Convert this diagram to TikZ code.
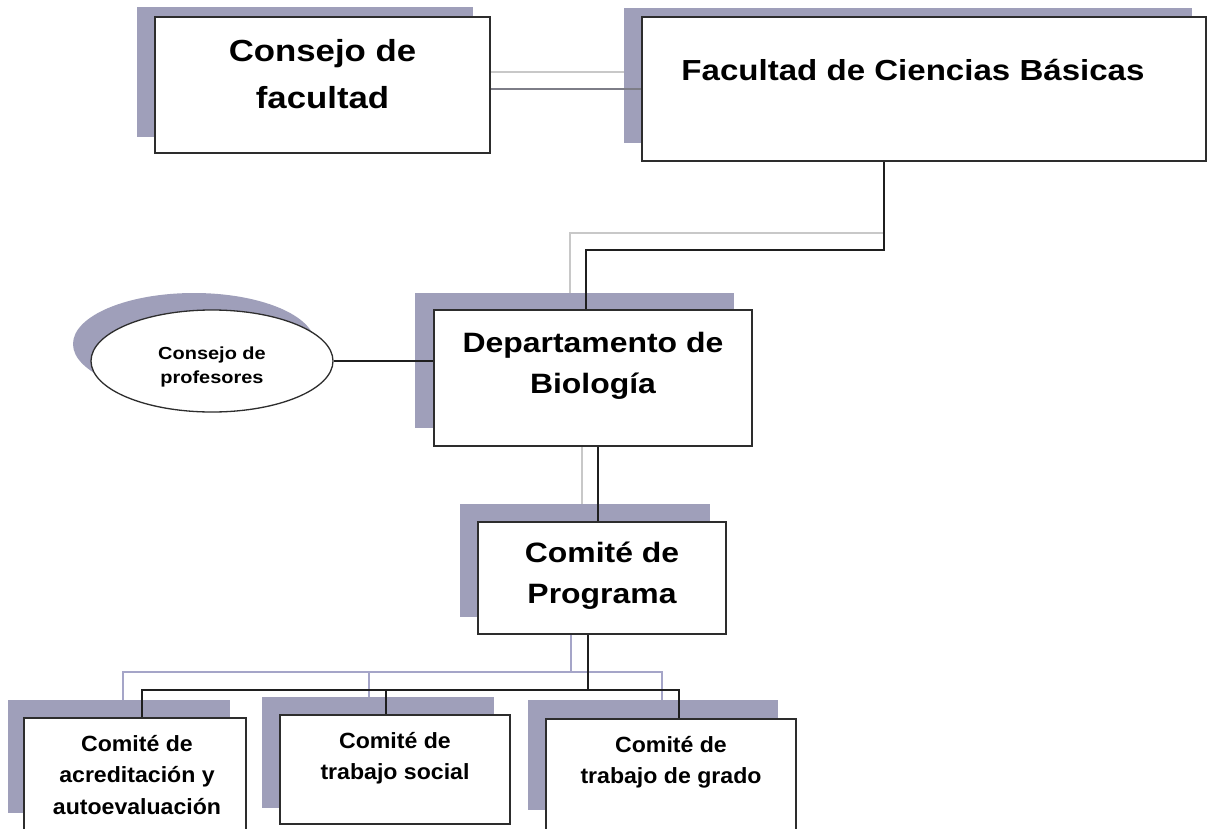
\documentclass[tikz,border=0pt]{standalone}
\usepackage{fontspec}
\setmainfont{Liberation Sans}
\newfontfamily\topf[FakeStretch=1.14]{Liberation Sans}
\newfontfamily\botf[FakeStretch=1.05]{Liberation Sans}
\usetikzlibrary{shapes.geometric}
\definecolor{shadowc}{RGB}{159,159,186}
\definecolor{lightg}{RGB}{200,200,200}
\definecolor{midg}{RGB}{125,125,135}
\definecolor{blueg}{RGB}{165,165,200}
\definecolor{borderc}{RGB}{45,45,45}
\pgfdeclarelayer{bgpaper}
\pgfdeclarelayer{glines}
\pgfdeclarelayer{shadows}
\pgfdeclarelayer{lines}
\pgfsetlayers{bgpaper,glines,shadows,lines,main}
\begin{document}
\begin{tikzpicture}[x=1pt,y=-1pt,
  box/.style={draw=borderc, line width=1.4pt, fill=white, rectangle, inner sep=0pt},
  oval/.style={draw=borderc, line width=1.3pt, fill=white, ellipse, inner sep=0pt},
  shad/.style={fill=shadowc},
  txt/.style={align=center, inner sep=0pt, text depth=0pt, text=black},
  bigt/.style={font=\topf\bfseries\fontsize{28}{41}\selectfont},
  smallt/.style={font=\botf\bfseries\fontsize{22}{31.5}\selectfont},
  blk/.style={draw=black!88, line width=1.3pt},
  lgr/.style={draw=lightg, line width=1.4pt},
  mgr/.style={draw=midg, line width=1.5pt},
  bgr/.style={draw=blueg, line width=1.3pt}]
\useasboundingbox (0,0) rectangle (1211,828);
\begin{pgfonlayer}{bgpaper}
\fill[white] (0,0) rectangle (1211,828);
\end{pgfonlayer}

% boxes
\node[box, minimum width=335pt, minimum height=136pt] (cf) at (322.5,85) {};
\node[box, minimum width=564pt, minimum height=144pt] (fac) at (924,89) {};
\node[box, minimum width=318pt, minimum height=136pt] (dep) at (593,378) {};
\node[box, minimum width=248pt, minimum height=112pt] (com) at (602,578) {};
\node[oval, minimum width=242pt, minimum height=102pt] (prof) at (212,361) {};
\node[box, minimum width=222pt, minimum height=130pt] (k1) at (135,783) {};
\node[box, minimum width=230pt, minimum height=109pt] (k2) at (395,769.5) {};
\node[box, minimum width=250pt, minimum height=130pt] (k3) at (671,784) {};

% texts
\node[txt, font=\topf\bfseries\fontsize{30.5}{47}\selectfont] (cft) at (322.5,73.5) {Consejo de\\facultad};
\node[txt, font=\topf\bfseries\fontsize{29}{40}\selectfont] (fact) at (913,70) {Facultad de Ciencias Básicas};
\node[txt, bigt] (dept) at (593,362.5) {Departamento de\\Biología};
\node[txt, bigt] (comt) at (602,572.5) {Comité de\\Programa};
\node[txt, font=\topf\bfseries\fontsize{17.5}{24}\selectfont] (proft) at (212,365) {Consejo de\\profesores};
\node[txt, smallt] (k1t) at (137,774.5) {Comité de\\acreditación y\\autoevaluación};
\node[txt, smallt] (k2t) at (395,756) {Comité de\\trabajo social};
\node[txt, smallt] (k3t) at (671,760) {Comité de\\trabajo de grado};

% shadows
\begin{pgfonlayer}{shadows}
\fill[shad] (137,7) rectangle (473,137);
\fill[shad] (624,8) rectangle (1192,143);
\fill[shad] (415,293) rectangle (734,428);
\fill[shad] (460,504) rectangle (710,617);
\fill[shad] (8,700) rectangle (230,813);
\fill[shad] (262,697) rectangle (494,808);
\fill[shad] (528,700) rectangle (778,810);
\fill[shad] (194,344) ellipse [x radius=121, y radius=51];
\end{pgfonlayer}

% light connectors (under shadows)
\begin{pgfonlayer}{glines}
\coordinate (a1) at (624,72);
\draw[lgr] (a1 -| cf.east) -- (a1);
\coordinate (g1) at (884,233);
\coordinate (g2) at (570,233);
\draw[lgr] (g1) -- (g2) -- (g2 |- dep.north);
\coordinate (c1) at (582,0);
\draw[lgr] (c1 |- dep.south) -- (c1 |- com.north);
\coordinate (d1) at (571,672);
\coordinate (d2) at (123,672);
\coordinate (d3) at (662,672);
\coordinate (d4) at (369,672);
\draw[bgr] (d1 |- com.south) -- (d1);
\draw[bgr] (d2 |- k1.north) -- (d2) -- (d3) -- (d3 |- k3.north);
\draw[bgr] (d4) -- (d4 |- k2.north);
\end{pgfonlayer}

% dark connectors (over shadows)
\begin{pgfonlayer}{lines}
\coordinate (a2) at (0,89);
\draw[mgr] (a2 -| cf.east) -- (a2 -| fac.west);
\coordinate (b1) at (884,250);
\coordinate (b2) at (586,250);
\draw[blk] (b1 |- fac.south) -- (b1) -- (b2) -- (b2 |- dep.north);
\draw[blk] (prof.east) -- (prof.east -| dep.west);
\coordinate (c2) at (598,0);
\draw[blk] (c2 |- dep.south) -- (c2 |- com.north);
\coordinate (e1) at (588,690);
\coordinate (e2) at (142,690);
\coordinate (e3) at (679,690);
\coordinate (e4) at (386,690);
\draw[blk] (e1 |- com.south) -- (e1);
\draw[blk] (e2 |- k1.north) -- (e2) -- (e3) -- (e3 |- k3.north);
\draw[blk] (e4) -- (e4 |- k2.north);
\end{pgfonlayer}
\end{tikzpicture}
\end{document}
